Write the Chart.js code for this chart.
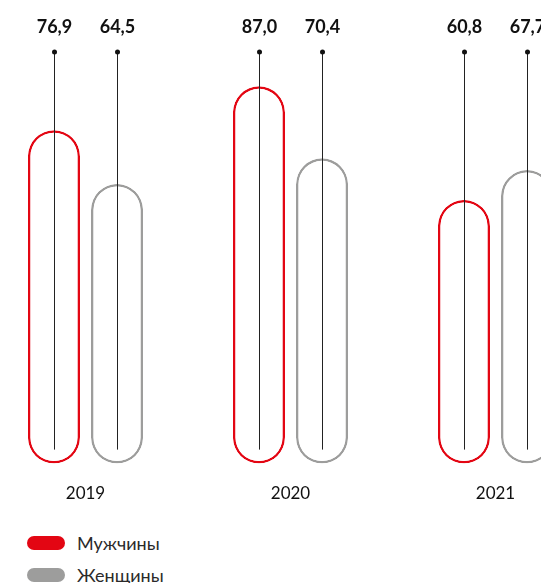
<!DOCTYPE html>
<html>
<head>
<meta charset="utf-8">
<script src="https://cdn.jsdelivr.net/npm/chart.js@4"></script>
<style>
  html, body { margin: 0; padding: 0; background: #fff; overflow: hidden; width: 541px; height: 583px; }
  #wrap { position: absolute; left: -17px; top: 0; width: 615px; height: 524px; }
  .legend { position: absolute; left: 27px; font-family: Lato, "Noto Sans", sans-serif; font-size: 18px; color: #2a2a2a; font-weight: 400; }
  .legend div { display: flex; align-items: center; height: 32px; }
  .legend span.pill { display: inline-block; width: 38px; height: 14px; border-radius: 7px; margin-right: 12px; }
</style>
</head>
<body>
<div id="wrap"><canvas id="chart"></canvas></div>
<div class="legend" style="top:527px">
  <div><span class="pill" style="background:#e30613"></span>Мужчины</div>
  <div><span class="pill" style="background:#9d9d9c"></span>Женщины</div>
</div>
<script>
  // данные
  const years = ['2019', '2020', '2021'];
  const men = [76.9, 87.0, 60.8];
  const women = [64.5, 70.4, 67.7];

  const RED = '#e30613';
  const GRAY = '#9d9d9c';

  // линии с точками и подписи значений над столбцами
  const pinLabels = {
    id: 'pinLabels',
    afterDatasetsDraw(chart) {
      const ctx = chart.ctx;
      const bottom = chart.chartArea.bottom;
      ctx.save();
      chart.data.datasets.forEach((ds, i) => {
        chart.getDatasetMeta(i).data.forEach((bar, j) => {
          const x = Math.round(bar.x) + 0.5;
          ctx.strokeStyle = '#222';
          ctx.lineWidth = 1;
          ctx.beginPath();
          ctx.moveTo(x, 52);
          ctx.lineTo(x, bottom - 14);
          ctx.stroke();
          ctx.fillStyle = '#111';
          ctx.beginPath();
          ctx.arc(x, 52, 2.5, 0, Math.PI * 2);
          ctx.fill();
          ctx.font = 'bold 18px Lato, "Noto Sans", sans-serif';
          ctx.textAlign = 'center';
          ctx.textBaseline = 'middle';
          ctx.fillText(ds.data[j].toFixed(1).replace('.', ','), x, 27);
        });
      });
      ctx.restore();
    }
  };

  new Chart(document.getElementById('chart'), {
    type: 'bar',
    data: {
      labels: years,
      datasets: [
        { label: 'Мужчины', data: men, borderColor: RED, backgroundColor: '#fff' },
        { label: 'Женщины', data: women, borderColor: GRAY, backgroundColor: '#fff' }
      ]
    },
    options: {
      responsive: true,
      maintainAspectRatio: false,
      animation: false,
      layout: { padding: { top: 30, left: 0, right: 0, bottom: 0 } },
      datasets: {
        bar: {
          borderWidth: 2.5,
          borderRadius: 100,
          borderSkipped: false,
          categoryPercentage: 0.615,
          barPercentage: 0.825
        }
      },
      plugins: {
        legend: { display: false },
        tooltip: { enabled: false }
      },
      scales: {
        y: { display: false, min: 0, max: 100 },
        x: {
          grid: { display: false, drawTicks: false },
          border: { display: false },
          ticks: {
            padding: 20,
            color: '#111',
            font: { family: 'Lato, "Noto Sans", sans-serif', size: 17, weight: '400' }
          }
        }
      }
    },
    plugins: [pinLabels]
  });
</script>
</body>
</html>
